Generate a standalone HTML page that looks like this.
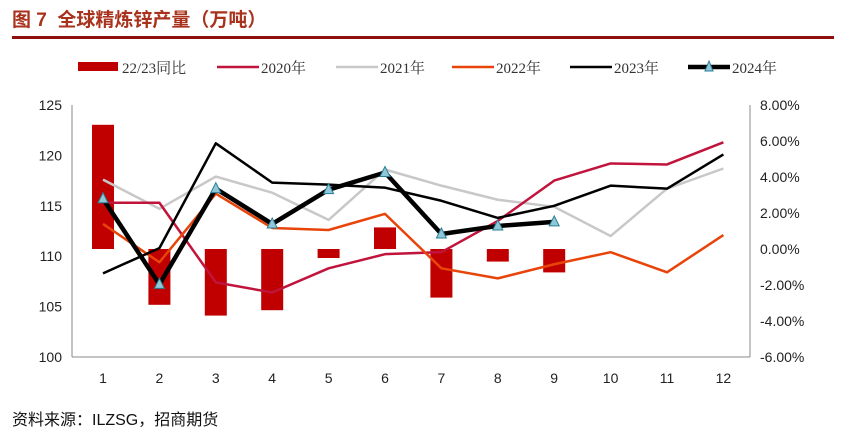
<!DOCTYPE html>
<html><head><meta charset="utf-8"><style>
body{margin:0;background:#fff;width:848px;height:436px;overflow:hidden;font-family:"Liberation Sans","Noto Sans CJK SC",sans-serif}
#title{position:absolute;left:12px;top:5px;font-size:19px;font-weight:bold;color:#a8321c}
#rule{position:absolute;left:12px;top:36px;width:822px;height:3px;background:#8e0f0f}
#src{position:absolute;left:12px;top:406px;font-size:16px;color:#111}
svg{position:absolute;left:0;top:0}
</style></head><body>
<div id="title">图 7&nbsp; 全球精炼锌产量（万吨）</div>
<div id="rule"></div>
<div id="src">资料来源：ILZSG，招商期货</div>
<svg id="chart" width="848" height="436"></svg>
<script>
const categories=["1","2","3","4","5","6","7","8","9","10","11","12"];
const leftTicks=[100,105,110,115,120,125];
const rightTicks=[-6,-4,-2,0,2,4,6,8];
const yoy=[6.9,-3.1,-3.7,-3.4,-0.5,1.2,-2.7,-0.7,-1.3];
const s2020=[115.3,115.3,107.4,106.4,108.8,110.2,110.4,113.5,117.5,119.2,119.1,121.3];
const s2021=[117.6,114.7,117.9,116.3,113.6,118.6,117.0,115.6,114.9,112.0,116.7,118.7];
const s2022=[113.2,109.4,116.2,112.8,112.6,114.2,108.8,107.8,109.2,110.4,108.4,112.1];
const s2023=[108.3,110.8,121.2,117.3,117.1,116.8,115.5,113.8,115.0,117.0,116.7,120.1];
const s2024=[115.7,107.2,116.7,113.2,116.6,118.3,112.2,113.0,113.4];
const NS="http://www.w3.org/2000/svg",svg=document.getElementById('chart');
function mk(t,a,p){const e=document.createElementNS(NS,t);for(const k in a)e.setAttribute(k,a[k]);(p||svg).appendChild(e);return e;}
const x=i=>103+i*56.4;
const yl=v=>357-(v-100)*252/25;
const yr=v=>249-v*18;
// axes
let ax=mk('line',{x1:72,y1:357,x2:750,y2:357,stroke:'#888','stroke-width':1});


let la=mk('line',{x1:72,y1:105,x2:72,y2:357,stroke:'#888','stroke-width':1});


let ra=mk('line',{x1:750,y1:105,x2:750,y2:357,stroke:'#888','stroke-width':1});


leftTicks.forEach(v=>{const t=mk('text',{x:62,y:yl(v)+5,'text-anchor':'end','font-size':14,fill:'#222'});t.textContent=v;

});
rightTicks.forEach(v=>{const t=mk('text',{x:760,y:yr(v)+5,'font-size':14,fill:'#222'});t.textContent=v.toFixed(2)+'%';

});
categories.forEach((c,i)=>{const t=mk('text',{x:x(i),y:383,'text-anchor':'middle','font-size':14,fill:'#222'});t.textContent=c;

});
yoy.forEach((v,i)=>{const r=mk('rect',{x:x(i)-11,y:Math.min(yr(v),yr(0)),width:22,height:Math.abs(yr(v)-yr(0)),fill:'#c00000'});

});
function line(arr,col,w,name){const p=mk('polyline',{points:arr.map((v,i)=>x(i)+','+yl(v)).join(' '),fill:'none',stroke:col,'stroke-width':w,'stroke-linejoin':'round'});

}
line(s2021,'#c8c8c8',2.5,'line-2021');
line(s2020,'#c0143c',2.5,'line-2020');
line(s2022,'#e8440a',2.5,'line-2022');
line(s2023,'#000',2.5,'line-2023');
line(s2024,'#000',4.5,'line-2024');
s2024.forEach((v,i)=>{const px=x(i),py=yl(v);const m=mk('polygon',{points:`${px},${py-6} ${px-5},${py+4} ${px+5},${py+4}`,fill:'#8fc8d8',stroke:'#2a7f95','stroke-width':1});

});
// legend
const leg=[['22/23同比','#c00000','bar',78],['2020年','#c0143c',2.5,217],['2021年','#c8c8c8',2.5,336],['2022年','#e8440a',2.5,452],['2023年','#000',2.5,570],['2024年','#000',4.5,688]];
leg.forEach(([lab,col,w,lx])=>{const g=mk('g',{});


if(w==='bar'){mk('rect',{x:lx,y:62,width:40,height:9,fill:col},g);}
else{mk('line',{x1:lx,y1:67,x2:lx+42,y2:67,stroke:col,'stroke-width':w},g);
if(lab==='2024年')mk('polygon',{points:`${lx+21},61 ${lx+17},71 ${lx+25},71`,fill:'#8fc8d8',stroke:'#2a7f95'},g);}
const t=mk('text',{x:lx+44,y:73,'font-size':15,fill:'#333','font-family':'Liberation Serif,Noto Serif CJK SC,serif'},g);t.textContent=lab;});
</script>
</body></html>
